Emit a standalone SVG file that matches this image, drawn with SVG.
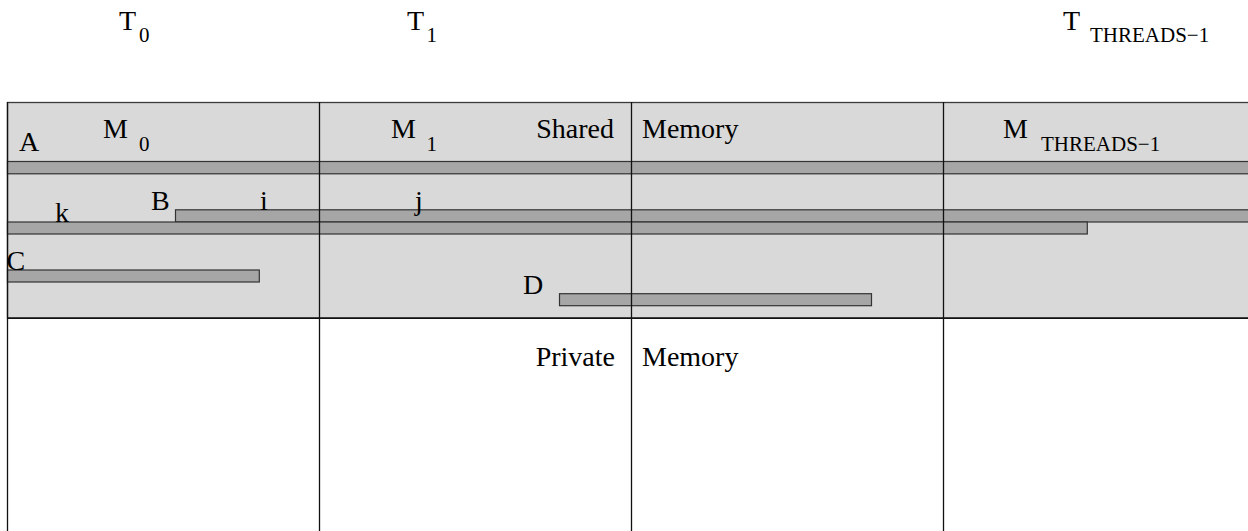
<svg xmlns="http://www.w3.org/2000/svg" width="1248" height="531" viewBox="0 0 1248 531">
  <style>
    text { font-family: "Liberation Serif", "Times New Roman", serif; fill: #000; }
    .big { font-size: 28px; }
    .sub { font-size: 21px; }
    .bar { fill: #a6a6a6; stroke: #333; stroke-width: 1.2; }
    .div { stroke: #111; stroke-width: 1.3; fill: none; }
  </style>
  <rect width="1248" height="531" fill="#fff"/>
  <g id="threads">
    <text class="big" x="119" y="29.5">T</text><text class="sub" x="139" y="42">0</text>
    <text class="big" x="407" y="29.5">T</text><text class="sub" x="426.5" y="42">1</text>
    <text class="big" x="1063" y="29.5">T</text><text class="sub" x="1090" y="42">THREADS−1</text>
  </g>
  <g id="shared-memory">
    <rect x="7.5" y="102.5" width="1250" height="215.5" fill="#d9d9d9" stroke="#3a3a3a" stroke-width="1.3"/>
    <text class="big" x="614" y="138" text-anchor="end">Shared</text>
    <text class="big" x="642" y="138">Memory</text>
  </g>
  <g id="bars">
    <rect id="bar-A" class="bar" x="7.5" y="161.5" width="1250" height="12.3"/>
    <rect id="bar-B" class="bar" x="175.5" y="209.8" width="1080" height="12.2"/>
    <rect id="bar-k" class="bar" x="7.5" y="222" width="1079.8" height="12"/>
    <rect id="bar-C" class="bar" x="7.5" y="270" width="251.8" height="12"/>
    <rect id="bar-D" class="bar" x="559.5" y="293.7" width="312" height="12"/>
  </g>
  <g id="dividers">
    <line class="div" x1="7.5" y1="102" x2="7.5" y2="531"/>
    <line class="div" x1="319.5" y1="102" x2="319.5" y2="531"/>
    <line class="div" x1="631.5" y1="102" x2="631.5" y2="531"/>
    <line class="div" x1="943.5" y1="102" x2="943.5" y2="531"/>
    <line x1="7" y1="318.2" x2="1248" y2="318.2" stroke="#111" stroke-width="1.6"/>
  </g>
  <g id="labels">
    <text class="big" x="19" y="151">A</text>
    <text class="big" x="103" y="138">M</text><text class="sub" x="139" y="150.5">0</text>
    <text class="big" x="391" y="138">M</text><text class="sub" x="426.5" y="150.5">1</text>
    <text class="big" x="1003" y="138">M</text><text class="sub" x="1041" y="150.5">THREADS−1</text>
    <text class="big" x="55" y="222">k</text>
    <text class="big" x="151" y="210">B</text>
    <text class="big" x="260" y="210">i</text>
    <text class="big" x="415" y="210">j</text>
    <text class="big" x="6.5" y="270">C</text>
    <text class="big" x="523" y="294">D</text>
  </g>
  <g id="private-memory">
    <text class="big" x="615" y="366" text-anchor="end">Private</text>
    <text class="big" x="642" y="366">Memory</text>
  </g>
</svg>
